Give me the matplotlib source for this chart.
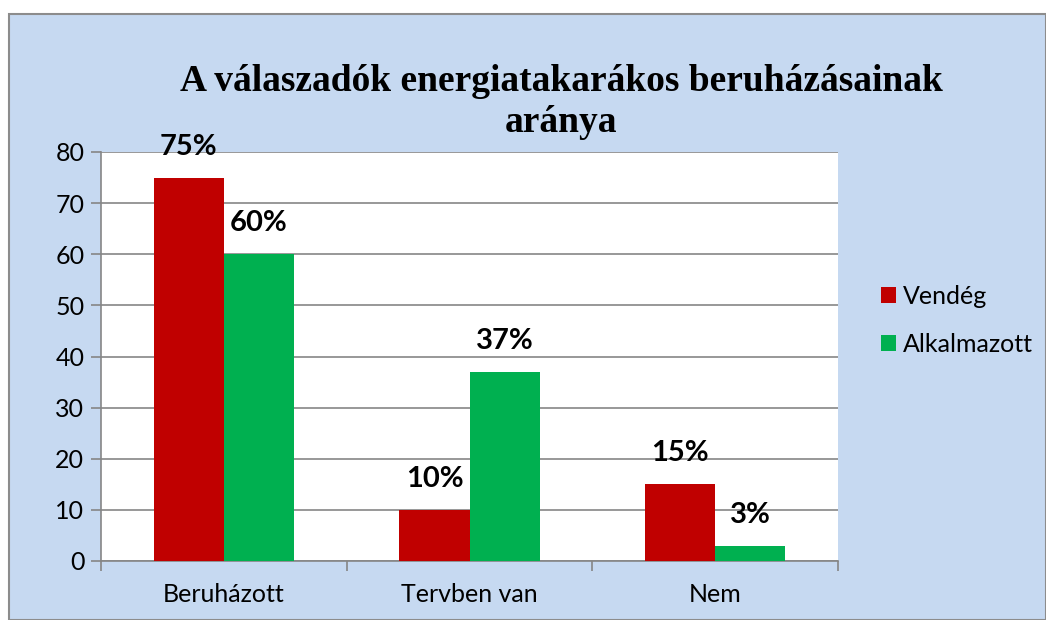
import numpy as np
import matplotlib.pyplot as plt
from matplotlib.patches import Rectangle

categories = ["Beruházott", "Tervben van", "Nem"]
vendeg = [75, 10, 15]
alkalmazott = [60, 37, 3]
vendeg_labels = ["75%", "10%", "15%"]
alkalmazott_labels = ["60%", "37%", "3%"]
title_lines = ["A válaszadók energiatakarákos beruházásainak", "aránya"]

red = "#C00000"
green = "#00B050"
bg = "#C6D9F1"
sans = ["Lato", "DejaVu Sans"]

fig = plt.figure(figsize=(10.46, 6.2), dpi=100, facecolor="white")
fig.patches.append(Rectangle((9/1046, 0), 1 - 9/1046, 1 - 14/620,
                             transform=fig.transFigure, facecolor=bg,
                             edgecolor="#8c8c8c", linewidth=1.5, zorder=-10))

ax = fig.add_axes([101/1046, 59/620, 737/1046, 409/620])
ax.set_facecolor("white")

x = np.arange(len(categories))
w = 0.285
b1 = ax.bar(x - w/2, vendeg, w, color=red, zorder=3)
b2 = ax.bar(x + w/2, alkalmazott, w, color=green, zorder=3)

for bars, labels in ((b1, vendeg_labels), (b2, alkalmazott_labels)):
    for bar, lab in zip(bars, labels):
        ax.annotate(lab, (bar.get_x() + bar.get_width()/2, bar.get_height()),
                    xytext=(0, 13), textcoords="offset points",
                    ha="center", va="bottom", fontsize=21, fontweight="bold",
                    family=sans)

ax.set_xlim(-0.5, 2.5)
ax.set_ylim(0, 80)
ax.set_yticks(range(0, 81, 10))
ax.yaxis.grid(True, color="#868686", linewidth=1.2, zorder=0)
ax.set_axisbelow(True)

ax.set_xticks([-0.5, 0.5, 1.5, 2.5])
ax.set_xticklabels([])
ax.set_xticks(x, minor=True)
ax.set_xticklabels(categories, minor=True)
ax.tick_params(axis="x", which="major", length=7, color="#868686", width=1.2)
ax.tick_params(axis="x", which="minor", length=0, pad=16, labelsize=18)
ax.tick_params(axis="y", length=7, color="#868686", width=1.2, labelsize=18, pad=5)
for lab in ax.get_xticklabels(minor=True) + ax.get_yticklabels():
    lab.set_family(sans)

for s in ("top", "right"):
    ax.spines[s].set_visible(False)
for s in ("left", "bottom"):
    ax.spines[s].set_color("#868686")
    ax.spines[s].set_linewidth(1.2)

# title as two separate lines (like the Excel original)
for line, ypx in zip(title_lines, (91, 132)):
    fig.text(561/1046, 1 - ypx/620, line, ha="center", va="baseline",
             fontsize=27, fontweight="bold", family="Liberation Serif")

leg = fig.legend(handles=[b1, b2], labels=["Vendég", "Alkalmazott"],
                 loc="center left", bbox_to_anchor=(858/1046, 1 - 320/620),
                 frameon=False, handlelength=0.6, handleheight=0.6,
                 handletextpad=0.3, labelspacing=1.0, prop={"family": sans, "size": 18})

fig.savefig("out.png", dpi=100, facecolor="white")
